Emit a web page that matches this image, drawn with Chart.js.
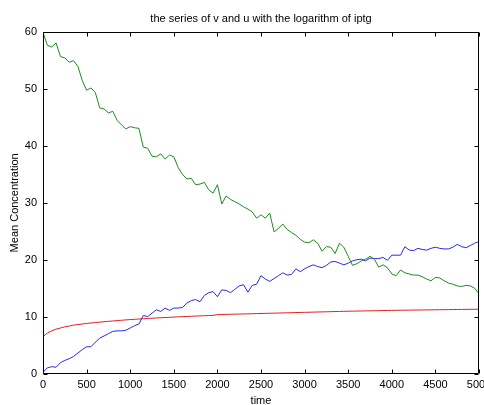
<!DOCTYPE html>
<html><head><meta charset="utf-8">
<script src="https://cdn.jsdelivr.net/npm/chart.js@4/dist/chart.umd.min.js"></script>
<style>html,body{margin:0;padding:0;background:#fff;overflow:hidden}#wrap{width:484px;height:405px}</style>
</head><body><div id="wrap"><canvas id="c" width="484" height="405"></canvas></div>
<script>
const chartTitle = 'the series of v and u with the logarithm of iptg';
const xTitle = 'time';
const yTitle = 'Mean Concentration';
const times = [0,50,100,150,200,250,300,350,400,450,500,550,600,650,700,750,800,850,900,950,
1000,1050,1100,1150,1200,1250,1300,1350,1400,1450,1500,1550,1600,1650,1700,1750,1800,1850,1900,1950,
2000,2050,2100,2150,2200,2250,2300,2350,2400,2450,2500,2550,2600,2650,2700,2750,2800,2850,2900,2950,
3000,3050,3100,3150,3200,3250,3300,3350,3400,3450,3500,3550,3600,3650,3700,3750,3800,3850,3900,3950,
4000,4050,4100,4150,4200,4250,4300,4350,4400,4450,4500,4550,4600,4650,4700,4750,4800,4850,4900,4950,5000];
const greenSeries = [60.0,57.7,57.4,58.1,55.7,55.5,54.7,55.0,54.0,51.5,49.8,50.2,49.4,46.7,46.5,45.8,46.1,44.5,43.7,43.0,
43.4,43.2,43.1,39.8,39.6,38.2,38.1,38.6,37.7,38.4,38.1,36.2,35.0,34.2,34.3,33.2,33.3,33.6,32.3,31.7,
33.2,29.8,31.2,30.6,30.2,29.8,29.3,28.9,28.4,27.3,27.9,27.3,28.2,24.9,25.5,26.3,25.3,24.8,24.3,23.6,
23.1,23.0,23.5,22.9,21.5,22.3,22.2,21.1,22.9,22.2,20.6,19.0,19.3,19.8,20.1,20.6,20.1,18.7,19.1,18.6,
17.5,17.2,18.2,17.7,17.5,17.3,17.3,17.0,16.6,16.3,16.9,16.8,16.3,15.9,15.7,15.4,15.3,15.5,15.4,15.0,14.0];
const blueSeries = [0.2,1.0,1.2,1.1,1.9,2.3,2.6,3.0,3.6,4.2,4.7,4.7,5.5,6.2,6.6,7.0,7.4,7.5,7.5,7.6,
8.0,8.4,8.7,10.2,10.0,10.6,11.2,10.9,11.5,11.1,11.5,11.5,11.6,12.4,12.8,13.0,12.6,13.7,14.2,14.4,
13.5,14.7,14.6,14.2,14.8,15.4,15.6,14.3,15.5,15.7,17.2,16.6,16.2,16.7,17.2,17.7,17.3,17.4,18.4,17.9,
18.4,18.8,19.1,18.8,18.6,19.0,19.6,19.7,19.4,19.1,19.4,19.8,20.0,20.1,19.8,20.3,20.2,20.2,20.4,19.9,
20.8,20.8,20.8,22.3,21.7,21.6,22.0,21.8,21.7,22.0,22.2,22.0,21.9,21.9,22.2,22.7,22.3,22.1,22.5,22.9,23.2];
const redSeries = [6.5,7.1,7.5,7.8,8.0,8.2,8.35,8.5,8.6,8.7,8.8,8.88,8.95,9.03,9.1,9.17,9.23,9.3,9.36,9.42,
9.48,9.53,9.58,9.63,9.68,9.72,9.76,9.8,9.84,9.88,9.92,9.96,10.0,10.03,10.06,10.1,10.13,10.16,10.19,10.22,
10.35,10.37,10.39,10.41,10.43,10.45,10.47,10.49,10.51,10.53,10.55,10.57,10.59,10.61,10.63,10.65,10.67,10.69,10.71,10.73,
10.75,10.77,10.79,10.81,10.83,10.85,10.87,10.89,10.91,10.93,10.95,10.96,10.98,10.99,11.01,11.02,11.04,11.05,11.07,11.08,
11.1,11.11,11.12,11.13,11.14,11.15,11.16,11.17,11.18,11.19,11.2,11.21,11.22,11.23,11.24,11.25,11.26,11.27,11.28,11.29,11.3];
const xTicks = [0,500,1000,1500,2000,2500,3000,3500,4000,4500,5000];
const yTicks = [0,10,20,30,40,50,60];

const FONT = 'Liberation Sans, Arial, Helvetica, sans-serif';
const pts = arr => arr.map((v,i)=>({x: times[i], y: v}));

const framePlugin = {
  id: 'frame',
  afterDatasetsDraw(chart) {
    const {ctx, chartArea: a, scales: {x, y}} = chart;
    const L = Math.round(a.left)+0.5, R = Math.round(a.right)-0.5, T = Math.round(a.top)+0.5, B = Math.round(a.bottom)-0.5;
    ctx.save();
    ctx.strokeStyle = '#000'; ctx.lineWidth = 1;
    ctx.beginPath();
    ctx.rect(L, T, R-L, B-T);
    const tl = 4;
    xTicks.forEach(v => {
      const px = Math.round(x.getPixelForValue(v))+0.5;
      ctx.moveTo(px, B); ctx.lineTo(px, B-tl);
      ctx.moveTo(px, T); ctx.lineTo(px, T+tl);
    });
    yTicks.forEach(v => {
      const py = Math.round(y.getPixelForValue(v))+0.5;
      ctx.moveTo(L, py); ctx.lineTo(L+tl, py);
      ctx.moveTo(R, py); ctx.lineTo(R-tl, py);
    });
    ctx.stroke();
    ctx.restore();
  }
};

new Chart(document.getElementById('c'), {
  type: 'line',
  data: { datasets: [
    {data: pts(greenSeries), borderColor: '#1f8a1f', borderWidth: 1, pointRadius: 0, tension: 0},
    {data: pts(blueSeries), borderColor: '#2a2ae0', borderWidth: 1, pointRadius: 0, tension: 0},
    {data: pts(redSeries), borderColor: '#e02020', borderWidth: 1, pointRadius: 0, tension: 0}
  ]},
  options: {
    responsive: false, animation: false, devicePixelRatio: 1,
    layout: {padding: {left: 0, right: 5, top: 0, bottom: 0}},
    plugins: {
      legend: {display: false}, tooltip: {enabled: false},
      title: {display: true, text: chartTitle, fullSize: false, color: '#000',
        font: {family: FONT, size: 11, weight: 'normal', lineHeight: 1.2}, padding: {top: 12, bottom: 7}}
    },
    scales: {
      x: {type: 'linear', min: 0, max: 5000,
        afterBuildTicks: s => { s.ticks = xTicks.map(v => ({value: v})); },
        ticks: {color: '#000', font: {family: FONT, size: 11}, padding: 5, maxRotation: 0, autoSkip: false,
          callback: v => String(v)},
        grid: {display: false, drawTicks: false}, border: {display: false},
        title: {display: true, text: xTitle, color: '#000', font: {family: FONT, size: 11, lineHeight: 1}, padding: {top: 0, bottom: -1}},
        afterFit: s => { s.height = 31.5; s.paddingLeft = 0; s.paddingRight = 0; }
      },
      y: {min: 0, max: 60,
        afterBuildTicks: s => { s.ticks = yTicks.map(v => ({value: v})); },
        ticks: {color: '#000', font: {family: FONT, size: 11}, padding: 6, callback: v => String(v)},
        grid: {display: false, drawTicks: false}, border: {display: false},
        title: {display: true, text: yTitle, color: '#000', font: {family: FONT, size: 11, lineHeight: 1.2}, padding: {top: 8, bottom: 0}},
        afterFit: s => { s.width = 43; s.paddingTop = 0; s.paddingBottom = 0; }
      }
    }
  },
  plugins: [framePlugin]
});
</script></body></html>
